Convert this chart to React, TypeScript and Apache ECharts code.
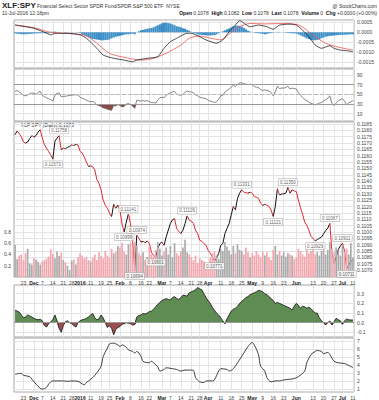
import { useEffect, useRef } from "react";
import * as echarts from "echarts";

const dates = [
  "2015-11-17","2015-11-18","2015-11-19","2015-11-20","2015-11-23","2015-11-24","2015-11-25","2015-11-27","2015-11-30",
  "2015-12-01","2015-12-02","2015-12-03","2015-12-04","2015-12-07","2015-12-08","2015-12-09","2015-12-10","2015-12-11",
  "2015-12-14","2015-12-15","2015-12-16","2015-12-17","2015-12-18","2015-12-21","2015-12-22","2015-12-23","2015-12-24",
  "2015-12-28","2015-12-29","2015-12-30","2015-12-31",
  "2016-01-04","2016-01-05","2016-01-06","2016-01-07","2016-01-08","2016-01-11","2016-01-12","2016-01-13","2016-01-14",
  "2016-01-15","2016-01-19","2016-01-20","2016-01-21","2016-01-22","2016-01-25","2016-01-26","2016-01-27","2016-01-28","2016-01-29",
  "2016-02-01","2016-02-02","2016-02-03","2016-02-04","2016-02-05","2016-02-08","2016-02-09","2016-02-10","2016-02-11","2016-02-12",
  "2016-02-16","2016-02-17","2016-02-18","2016-02-19","2016-02-22","2016-02-23","2016-02-24","2016-02-25","2016-02-26","2016-02-29",
  "2016-03-01","2016-03-02","2016-03-03","2016-03-04","2016-03-07","2016-03-08","2016-03-09","2016-03-10","2016-03-11",
  "2016-03-14","2016-03-15","2016-03-16","2016-03-17","2016-03-18","2016-03-21","2016-03-22","2016-03-23","2016-03-24",
  "2016-03-28","2016-03-29","2016-03-30","2016-03-31",
  "2016-04-01","2016-04-04","2016-04-05","2016-04-06","2016-04-07","2016-04-08","2016-04-11","2016-04-12","2016-04-13","2016-04-14",
  "2016-04-15","2016-04-18","2016-04-19","2016-04-20","2016-04-21","2016-04-22","2016-04-25","2016-04-26","2016-04-27","2016-04-28","2016-04-29",
  "2016-05-02","2016-05-03","2016-05-04","2016-05-05","2016-05-06","2016-05-09","2016-05-10","2016-05-11","2016-05-12","2016-05-13",
  "2016-05-16","2016-05-17","2016-05-18","2016-05-19","2016-05-20","2016-05-23","2016-05-24","2016-05-25","2016-05-26","2016-05-27","2016-05-31",
  "2016-06-01","2016-06-02","2016-06-03","2016-06-06","2016-06-07","2016-06-08","2016-06-09","2016-06-10","2016-06-13","2016-06-14",
  "2016-06-15","2016-06-16","2016-06-17","2016-06-20","2016-06-21","2016-06-22","2016-06-23","2016-06-24","2016-06-27","2016-06-28",
  "2016-06-29","2016-06-30",
  "2016-07-01","2016-07-05","2016-07-06","2016-07-07","2016-07-08","2016-07-11"
];

const tickDates = ["2015-11-23","2015-12-01","2015-12-07","2015-12-14","2015-12-21","2015-12-28","2016-01-04","2016-01-11","2016-01-19","2016-01-25","2016-02-01","2016-02-08","2016-02-16","2016-02-22","2016-03-01","2016-03-07","2016-03-14","2016-03-21","2016-03-28","2016-04-01","2016-04-11","2016-04-18","2016-04-25","2016-05-02","2016-05-09","2016-05-16","2016-05-23","2016-06-01","2016-06-13","2016-06-20","2016-06-27","2016-07-01","2016-07-11"];
const tickTexts = ["23","Dec","7","14","21","28","2016","11","19","25","Feb","8","16","22","Mar","7","14","21","28","Apr","11","18","25","May","9","16","23","Jun","13","20","27","Jul","11"];
const boldTicks = ["Dec","2016","Feb","Mar","Apr","May","Jun","Jul"];

// XLF:SPY daily close
const price = [
  0.11766,0.11795,0.11775,0.11751,0.11708,0.11700,0.11708,0.11735,0.11759,0.11747,
  0.11759,0.11787,0.11805,0.11739,0.11686,0.11660,0.11633,0.11607,0.11573,0.11713,
  0.11739,0.11758,0.11647,0.11660,0.11655,0.11666,0.11672,0.11686,0.11680,0.11690,
  0.11684,0.11634,0.11621,0.11589,0.11550,0.11516,0.11520,0.11514,0.11489,0.11410,
  0.11384,0.11331,0.11250,0.11210,0.11186,0.11147,0.11121,0.11218,0.11186,0.11212,
  0.11173,0.11060,0.10999,0.11078,0.11141,0.11066,0.10934,0.10694,0.10974,0.10950,
  0.10920,0.10925,0.10915,0.10928,0.10908,0.10839,0.10815,0.10801,0.10868,0.10908,
  0.10920,0.10894,0.10960,0.11013,0.11066,0.11095,0.11105,0.11026,0.11005,0.10987,
  0.11013,0.11066,0.11126,0.11092,0.11085,0.11066,0.11013,0.10987,0.10934,0.10926,
  0.10908,0.10894,0.10855,0.10831,0.10802,0.10771,0.10792,0.10829,0.10894,0.10908,
  0.10987,0.11028,0.11066,0.11134,0.11200,0.11173,0.11265,0.11305,0.11331,0.11313,
  0.11309,0.11305,0.11313,0.11305,0.11279,0.11273,0.11265,0.11226,0.11208,0.11218,
  0.11210,0.11200,0.11173,0.11121,0.11200,0.11340,0.11291,0.11297,0.11301,0.11305,
  0.11350,0.11305,0.11331,0.11323,0.11318,0.11252,0.11192,0.11139,0.11078,0.11052,
  0.11013,0.10965,0.10950,0.10929,0.10940,0.10950,0.10960,0.10985,0.11010,0.11030,
  0.11067,0.10830,0.10750,0.10800,0.10860,0.10890,0.10911,0.10850,0.10711,0.10740,
  0.10765,0.10780
];

const volume = [
  0.57,0.32,0.38,0.40,0.30,0.42,0.50,0.24,0.22,0.33,0.31,0.27,0.22,0.28,0.30,0.33,0.36,0.49,0.41,0.33,
  0.45,0.37,0.43,0.30,0.26,0.20,0.12,0.29,0.31,0.22,0.35,
  0.42,0.38,0.33,0.36,0.30,0.28,0.34,0.40,0.30,0.44,0.37,0.33,0.46,0.38,0.34,0.50,0.42,0.45,0.55,
  0.52,0.60,0.45,0.40,0.58,0.60,0.48,0.62,0.55,0.42,0.38,0.44,0.30,0.35,0.55,0.40,0.36,0.48,0.62,0.50,
  0.38,0.45,0.52,0.40,0.55,0.35,0.60,0.42,0.38,0.46,0.52,0.66,0.44,0.40,0.35,0.30,0.38,0.25,0.33,0.30,0.28,0.22,
  0.18,0.34,0.42,0.45,0.38,0.32,0.50,0.46,0.62,0.54,0.47,0.40,0.55,0.42,0.58,0.48,0.46,0.40,0.52,0.44,0.35,
  0.42,0.38,0.46,0.40,0.35,0.45,0.38,0.44,0.35,0.30,0.48,0.55,0.40,0.46,0.38,0.44,0.36,0.42,0.40,0.38,0.32,
  0.35,0.50,0.46,0.40,0.36,0.48,0.42,0.46,0.52,0.40,0.44,0.38,0.46,0.55,0.40,0.48,0.62,0.50,0.44,0.52,0.46,0.38,
  0.55,0.45,0.50,0.40,0.60,0.35
];

const rsi = [
  56,58,55,52,48,47,49,51,53,52,50,54,56,48,45,43,41,39,36,49,
  52,53,45,46,46,47,48,48,49,49,49,44,42,40,38,36,35,35,33,28,
  27,25,22,21,19,18,17,27,26,29,27,24,25,30,31,29,26,21,38,37,
  36,37,36,37,35,33,33,32,38,43,44,43,48,51,53,55,56,50,49,48,
  50,54,57,55,55,53,49,47,44,43,42,41,38,36,35,33,35,40,47,48,
  55,58,61,65,69,66,71,73,74,72,71,70,71,70,66,65,64,60,58,59,
  58,57,54,47,55,67,62,63,63,64,67,61,63,62,61,54,48,44,39,37,
  34,31,30,28,30,32,33,36,39,42,47,31,27,32,37,39,41,36,28,32,
  35,37
];

const macdLine = [
  [0,0.00036],[3,0.00031],[9,0.0002],[15,-0.00004],[17,-0.00013],[19,-0.00005],[25,-0.00005],[31,-0.00013],
  [34,-0.0003],[39,-0.0008],[42,-0.00114],[47,-0.0013],[52,-0.00139],[56,-0.00147],[58,-0.00139],[63,-0.0013],
  [68,-0.00122],[71,-0.0008],[74,-0.00047],[77,-0.0003],[82,-0.00005],[84,-0.00005],[88,-0.00022],[91,-0.00038],
  [96,-0.00055],[99,-0.00038],[102,0.00003],[105,0.00036],[107,0.00058],[112,0.00028],[116,0.00036],[120,0.00028],
  [123,0.00015],[126,0.00036],[131,0.00041],[134,0.00036],[137,0.00011],[140,-0.00022],[143,-0.00063],[146,-0.0008],
  [150,-0.00067],[152,-0.0008],[155,-0.00089],[158,-0.00092],[161,-0.00097]
];
const macdSignal = [
  [0,0.00037],[9,0.00023],[17,0.0],[33,-0.00014],[39,-0.00055],[45,-0.00105],[53,-0.00127],[60,-0.00139],
  [66,-0.0013],[72,-0.00105],[79,-0.00064],[83,-0.0003],[88,-0.00019],[93,-0.00029],[98,-0.00038],[102,-0.00009],
  [107,0.00027],[112,0.00044],[119,0.00042],[127,0.00044],[135,0.00037],[142,-0.00014],[148,-0.00055],[154,-0.00074],
  [161,-0.00089]
];
const macdHist = [
  -0.00005,-0.00007,-0.00008,-0.0001,-0.0001,-0.0001,-0.00009,-0.00008,-0.00007,-0.00006,-0.00005,
  -0.00005,-0.00005,-0.00004,-0.00004,-0.00005,-0.00005,
  0.00002,0.00003,0.00003,0.00002,0.00001,0.0,
  0.0,-0.00001,0.00001,0.0,-0.00002,0.0,0.00001,-0.00001,-0.00003,
  -0.0001,-0.00015,-0.0002,-0.00025,-0.0003,-0.00033,-0.00035,
  -0.00036,-0.00038,-0.0004,-0.0004,-0.00039,-0.00038,-0.00035,-0.0003,-0.00026,
  -0.00022,-0.0002,-0.00018,-0.00015,-0.00012,-0.0001,-0.0001,-0.00008,-0.00006,-0.0001,
  0.0,0.00005,0.0001,0.00012,0.00015,0.00018,0.0002,0.00022,0.00025,
  0.0003,0.00035,0.0004,0.00045,0.00048,0.00048,0.00046,0.00044,0.0004,0.00035,0.0003,0.00028,0.00025,0.0002,
  0.00018,0.00012,0.00008,0.00002,-0.00003,-0.00006,-0.0001,-0.00012,-0.00013,-0.00014,
  -0.00015,-0.00016,-0.00016,-0.00015,-0.00014,-0.0001,-0.00005,0.0,0.00005,0.0001,
  0.00015,0.0002,0.00025,0.0003,0.00033,0.00034,0.00032,0.00028,0.00022,0.00015,
  0.00008,0.00004,0.0,-0.00002,-0.00004,-0.00005,-0.00006,-0.00008,-0.0001,-0.00008,-0.00005,-0.00004,-0.00002,0.0,0.00002,
  0.00002,0.0,-0.00001,-0.00002,-0.00003,-0.00004,-0.00005,-0.00005,-0.00006,-0.0001,
  -0.00015,-0.0002,-0.00025,-0.0003,-0.00034,-0.00038,-0.0004,-0.0004,-0.00038,-0.00035,
  -0.0003,-0.00026,-0.00022,-0.0002,-0.00018,-0.00017,-0.00016,-0.00015,-0.00014,-0.00013,-0.00013,-0.00012,-0.00012,-0.00011,-0.0001,-0.0001
];

const osc = [
  0.13,0.12,0.11,0.08,0.05,0.06,0.08,0.07,0.06,0.045,0.035,0.03,0.035,0.02,-0.03,-0.045,-0.01,0.01,0.03,0.08,
  0.02,-0.06,-0.1,-0.03,0.01,0.02,0.0,-0.01,-0.03,-0.045,0.0,0.02,0.03,0.035,0.045,0.06,0.08,0.095,0.05,0.03,
  0.04,0.08,0.05,0.0,-0.05,-0.03,-0.06,-0.125,-0.07,-0.05,-0.04,-0.015,-0.01,0.0,-0.005,-0.01,-0.025,-0.02,0.06,0.075,
  0.08,0.095,0.09,0.1,0.115,0.12,0.14,0.165,0.19,0.21,0.23,0.24,0.25,0.24,0.235,0.26,0.27,0.25,0.24,0.26,
  0.285,0.28,0.275,0.31,0.32,0.33,0.34,0.365,0.35,0.34,0.3,0.26,0.23,0.2,0.16,0.13,0.1,0.08,0.05,0.02,
  -0.01,0.04,0.08,0.12,0.14,0.15,0.17,0.2,0.22,0.24,0.26,0.27,0.29,0.3,0.31,0.32,0.335,0.33,0.32,0.3,
  0.29,0.27,0.25,0.23,0.2,0.21,0.2,0.19,0.18,0.17,0.16,0.15,0.13,0.17,0.2,0.18,0.15,0.17,0.165,0.15,
  0.16,0.145,0.12,0.1,0.1,0.05,0.02,0.0,-0.024,0.0,0.018,-0.024,0.01,0.045,0.03,0.02,-0.017,0.02,0.038,0.03,
  0.028,0.028
];

const lowerLine = [
  [0,2.86],[3,2.99],[4,2.74],[7,2.58],[8,2.26],[10,1.65],[12,1.12],[13,1.04],[15,1.24],[16,1.65],[18,2.05],[20,2.05],
  [23,2.05],[25,2.0],[27,2.05],[30,2.0],[31,1.85],[33,1.56],[34,1.85],[37,2.46],[39,3.07],[41,3.87],[42,5.09],[44,6.11],
  [45,6.63],[47,6.72],[49,6.51],[50,6.31],[51,6.51],[53,6.23],[54,5.9],[56,5.7],[57,5.5],[58,5.7],[60,5.09],[61,4.48],
  [64,4.29],[65,4.48],[66,4.29],[68,3.8],[69,3.27],[71,3.47],[72,3.68],[75,3.56],[77,3.47],[79,3.27],[81,3.39],[83,3.39],
  [85,3.35],[86,2.46],[88,1.93],[90,1.85],[91,2.05],[94,2.05],[95,2.17],[97,3.27],[98,3.56],[101,3.47],[102,3.27],[104,3.56],
  [106,4.29],[109,5.5],[111,6.31],[113,6.79],[114,6.51],[116,5.3],[117,3.87],[119,3.27],[120,2.46],[122,1.93],[124,2.05],
  [126,2.05],[128,2.17],[131,2.26],[133,2.34],[135,2.58],[138,3.27],[139,4.29],[141,5.3],[143,5.7],[144,5.82],[146,5.7],
  [147,5.42],[149,5.58],[150,5.3],[152,4.48],[154,4.29],[157,4.2],[159,3.96],[161,3.7]
];

// price annotations: [index, label side]
const annotations: [number, string][] = [
  [18, "bottom"], [21, "top"], [52, "bottom"], [54, "top"], [57, "bottom"], [58, "top"], [67, "bottom"], [82, "top"],
  [95, "bottom"], [108, "top"], [123, "bottom"], [130, "top"], [143, "bottom"], [150, "top"], [156, "top"], [158, "bottom"]
];

const macdTicks = [0.0005, 0, -0.0005, -0.001, -0.0015];
const rsiTicks = [10, 30, 50, 70, 90];
const priceTicks = [0.107,0.1075,0.108,0.1085,0.109,0.1095,0.11,0.1105,0.111,0.1115,0.112,0.1125,0.113,0.1135,0.114,0.1145,0.115,0.1155,0.116,0.1165,0.117,0.1175,0.118,0.1185];
const volTicks = [0.2, 0.4, 0.6, 0.8];
const oscTicks = [-0.1, 0, 0.1, 0.2, 0.3];
const lowerTicks = [1, 2, 3, 4, 5, 6, 7];

const FONT = "Liberation Sans, Arial, sans-serif";
const GRID_LINE = "#e4e4e4";
const LABEL_COLOR = "#444";

export default function App() {
  const ref = useRef<HTMLDivElement>(null);

  useEffect(() => {
    const chart = echarts.init(ref.current!, null, { renderer: "svg" });

    const tickIdx = new Set(tickDates.map((d) => dates.indexOf(d)));
    const labelOf: Record<string, string> = {};
    tickDates.forEach((d, k) => (labelOf[d] = tickTexts[k]));

    const xAxis = (gi: number, showLabels: boolean) => ({
      type: "category",
      gridIndex: gi,
      data: dates,
      boundaryGap: true,
      axisLine: { show: false },
      axisTick: { show: false },
      axisLabel: {
        show: showLabels,
        interval: (i: number) => tickIdx.has(i),
        formatter: (v: string) => {
          const t = labelOf[v] || "";
          return boldTicks.includes(t) ? `{b|${t}}` : t;
        },
        fontSize: 5,
        color: LABEL_COLOR,
        margin: 3,
        fontFamily: FONT,
        rich: { b: { fontWeight: "bold", fontSize: 5, color: "#222", fontFamily: FONT } },
      },
      splitLine: {
        show: true,
        interval: (i: number) => tickIdx.has(i),
        alignWithLabel: true,
        lineStyle: { color: GRID_LINE, width: 1 },
      },
    });

    const yAxis = (gi: number, min: number, max: number, ticks: number[], fmt: (v: number) => string, pos = "right", split = true) => ({
      type: "value",
      gridIndex: gi,
      position: pos,
      min,
      max,
      axisLine: { show: false },
      axisTick: { show: false, customValues: ticks },
      axisLabel: { customValues: ticks, formatter: fmt, fontSize: 5, color: LABEL_COLOR, margin: 3, fontFamily: FONT },
      splitLine: { show: split, lineStyle: { color: GRID_LINE, width: 1 } },
    });

    const gridBase = { left: 14, width: 340, show: true, borderColor: "#a8a8a8", borderWidth: 1, backgroundColor: "transparent" };

    const segments = price.slice(0, -1).map((p, i) => [i, p, price[i + 1]]);
    const volData = volume.map((v, i) => ({
      value: v,
      itemStyle: { color: i > 0 && price[i] < price[i - 1] ? "#f3a6ad" : "#ababab" },
    }));

    const option: any = {
      animation: false,
      backgroundColor: "#fff",
      textStyle: { fontFamily: FONT },
      grid: [
        { ...gridBase, top: 20, height: 48 },
        { ...gridBase, top: 69, height: 52 },
        { ...gridBase, top: 122, height: 155 },
        { ...gridBase, top: 285, height: 52 },
        { ...gridBase, top: 338, height: 55 },
      ],
      xAxis: [xAxis(0, false), xAxis(1, false), xAxis(2, true), xAxis(3, false), xAxis(4, true)],
      yAxis: [
        yAxis(0, -0.001785, 0.000615, macdTicks, (v) => v.toFixed(4)),
        yAxis(1, -5.1, 102.4, rsiTicks, (v) => String(v)),
        yAxis(2, 0.106447, 0.118658, priceTicks, (v) => v.toFixed(4)),
        yAxis(2, 0, 2.743, volTicks, (v) => v.toFixed(1), "left", false),
        yAxis(3, -0.148, 0.39, oscTicks, (v) => v.toFixed(1)),
        yAxis(4, 0.674, 7.365, lowerTicks, (v) => String(v)),
      ],
      series: [
        {
          type: "bar",
          xAxisIndex: 0,
          yAxisIndex: 0,
          data: macdHist,
          barWidth: "100%",
          itemStyle: { color: "#3b8ec6" },
        },
        {
          type: "line",
          xAxisIndex: 0,
          yAxisIndex: 0,
          data: macdSignal,
          symbol: "none",
          smooth: 0.3,
          lineStyle: { color: "#f05050", width: 0.8 },
        },
        {
          type: "line",
          xAxisIndex: 0,
          yAxisIndex: 0,
          data: macdLine,
          symbol: "none",
          smooth: 0.2,
          lineStyle: { color: "#222", width: 0.8 },
        },
        {
          type: "line",
          xAxisIndex: 1,
          yAxisIndex: 1,
          stack: "rsiFill",
          data: rsi.map((v) => Math.min(v, 30)),
          symbol: "none",
          lineStyle: { opacity: 0 },
        },
        {
          type: "line",
          xAxisIndex: 1,
          yAxisIndex: 1,
          stack: "rsiFill",
          data: rsi.map((v) => 30 - Math.min(v, 30)),
          symbol: "none",
          lineStyle: { opacity: 0 },
          areaStyle: { color: "#8e4848", opacity: 1 },
        },
        {
          type: "line",
          xAxisIndex: 1,
          yAxisIndex: 1,
          data: rsi,
          symbol: "none",
          lineStyle: { color: "#666", width: 0.8 },
          markLine: {
            silent: true,
            symbol: "none",
            label: { show: false },
            data: [
              { yAxis: 70, lineStyle: { color: "#9a9a9a", type: "solid", width: 1 } },
              { yAxis: 30, lineStyle: { color: "#9a9a9a", type: "solid", width: 1 } },
              { yAxis: 50, lineStyle: { color: "#b8b8b8", type: "dashed", width: 1 } },
            ],
          },
        },
        {
          type: "bar",
          xAxisIndex: 2,
          yAxisIndex: 3,
          data: volData,
          barWidth: "80%",
        },
        {
          type: "custom",
          xAxisIndex: 2,
          yAxisIndex: 2,
          data: segments,
          encode: { x: 0, y: [1, 2] },
          renderItem: (_params: any, api: any) => {
            const i = api.value(0);
            const a = api.coord([i, api.value(1)]);
            const b = api.coord([i + 1, api.value(2)]);
            const up = api.value(2) >= api.value(1);
            return {
              type: "line",
              shape: { x1: a[0], y1: a[1], x2: b[0], y2: b[1] },
              style: { stroke: up ? "#111" : "#e3262e", lineWidth: 1 },
            };
          },
        },
        {
          type: "scatter",
          xAxisIndex: 2,
          yAxisIndex: 2,
          symbolSize: 0,
          data: annotations.map(([i, side]) => ({
            value: [i, price[i]],
            label: { position: side },
          })),
          label: {
            show: true,
            formatter: (p: any) => p.value[1].toFixed(5),
            fontSize: 4.5,
            color: "#333",
            backgroundColor: "#fff",
            borderColor: "#999",
            borderWidth: 0.5,
            padding: [1, 1.5, 0.5, 1.5],
            distance: 2,
            fontFamily: FONT,
          },
        },
        {
          type: "line",
          xAxisIndex: 3,
          yAxisIndex: 4,
          data: osc.map((v) => Math.max(v, 0)),
          symbol: "none",
          lineStyle: { width: 0 },
          areaStyle: { color: "#5e8c52", opacity: 1 },
        },
        {
          type: "line",
          xAxisIndex: 3,
          yAxisIndex: 4,
          data: osc.map((v) => Math.min(v, 0)),
          symbol: "none",
          lineStyle: { width: 0 },
          areaStyle: { color: "#9a5050", opacity: 1 },
        },
        {
          type: "line",
          xAxisIndex: 3,
          yAxisIndex: 4,
          data: osc,
          symbol: "none",
          lineStyle: { color: "#111", width: 0.8 },
          markLine: {
            silent: true,
            symbol: "none",
            label: { show: false },
            data: [{ yAxis: 0, lineStyle: { color: "#999", type: "solid", width: 1 } }],
          },
        },
        {
          type: "line",
          xAxisIndex: 4,
          yAxisIndex: 5,
          data: lowerLine,
          symbol: "none",
          smooth: 0.3,
          lineStyle: { color: "#111", width: 0.8 },
        },
      ],
      graphic: [
        { type: "text", left: 2, top: 1, style: { text: "XLF:SPY", font: `bold 8px ${FONT}`, fill: "#222" } },
        { type: "text", left: 37, top: 3, style: { text: "Financial Select Sector SPDR Fund/SPDR S&P 500 ETF  NYSE", font: `5px ${FONT}`, fill: "#333" } },
        { type: "text", right: 2, top: 3, style: { text: "@ StockCharts.com", font: `5px ${FONT}`, fill: "#333" } },
        { type: "text", left: 2, top: 10, style: { text: "11-Jul-2016 12:18pm", font: `5px ${FONT}`, fill: "#333" } },
        {
          type: "text",
          right: 2,
          top: 10,
          style: {
            text: "{b|Open} 0.1078  {b|High} 0.1082  {b|Low} 0.1078  {b|Last} 0.1078  {b|Volume} 0  {b|Chg} +0.0000 (+0.00%)",
            font: `5px ${FONT}`,
            fill: "#333",
            rich: { b: { fontWeight: "bold", fontSize: 5, fontFamily: FONT, fill: "#111" } },
          },
        },
        { type: "rect", left: 16, top: 124, shape: { width: 4, height: 1 }, style: { fill: "#222" } },
        { type: "text", left: 21, top: 122, style: { text: `XLF:SPY (Daily) ${price[price.length - 1].toFixed(4)}`, font: `5px ${FONT}`, fill: "#333" } },
      ],
    };

    chart.setOption(option);
    return () => chart.dispose();
  }, []);

  return <div ref={ref} style={{ position: "fixed", left: 0, top: 0, width: 379, height: 400, background: "#fff" }} />;
}
